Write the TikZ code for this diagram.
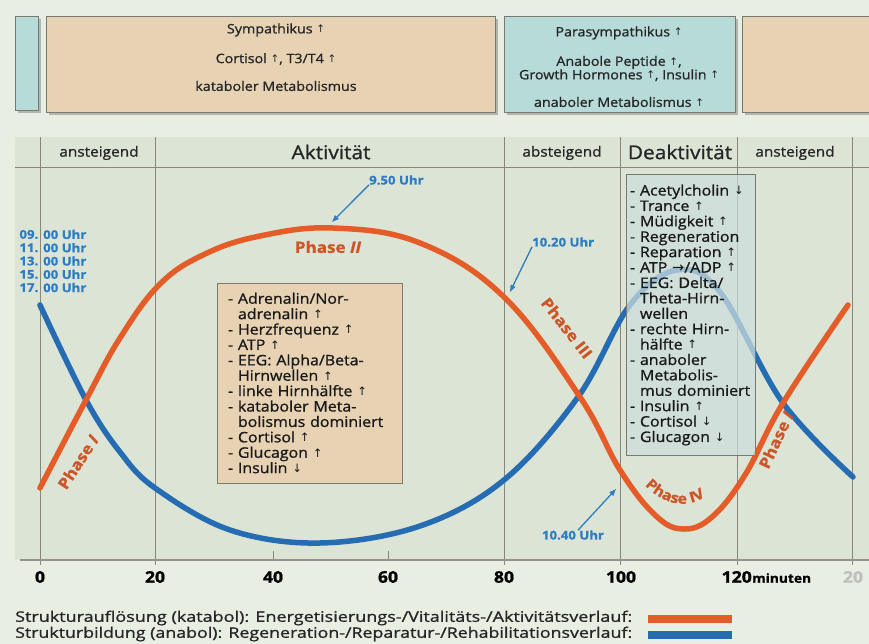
\documentclass[tikz,border=0pt]{standalone}
\usepackage{fontspec}
\usepackage{graphicx}
\setmainfont{Open Sans}[FakeStretch=1.1, FakeBold=1]
\newfontfamily\djv{DejaVu Sans}
\usetikzlibrary{arrows.meta,shadows,decorations.text}
\definecolor{bgc}{RGB}{232,238,226}
\definecolor{panel}{RGB}{219,228,213}
\definecolor{peach}{RGB}{231,210,180}
\definecolor{cyanb}{RGB}{182,219,216}
\definecolor{deak}{RGB}{206,222,222}
\definecolor{orangec}{RGB}{228,92,40}
\definecolor{orangel}{RGB}{205,85,40}
\definecolor{bluec}{RGB}{38,108,178}
\definecolor{bluel}{RGB}{45,125,195}
\definecolor{gridc}{RGB}{135,135,125}
\definecolor{boxedge}{RGB}{120,122,112}
\newcommand\upa{\raisebox{0.05em}{\scalebox{0.8}{\djv ↑}}}
\newcommand\dna{\raisebox{0.05em}{\scalebox{0.8}{\djv ↓}}}
\newcommand\ria{{\djv →}}
\newcommand\hng{\phantom{- }}
\tikzset{
 gridline/.style={draw=gridc, line width=1},
 hdr/.style={font=\fontsize{14}{15}\selectfont, text=black!85, inner sep=0},
 hdrbig/.style={font=\fontsize{19}{20}\selectfont, text=black!85, inner sep=0},
 topbox/.style={draw=boxedge, line width=0.8, inner sep=0, anchor=north west,
   drop shadow={shadow xshift=2.5pt,shadow yshift=-2.5pt,fill=black!50}},
 toptxt/.style={font=\fontsize{13}{13.5}\selectfont, text=black!85, align=center, inner sep=0},
 listbox/.style={line width=1, align=left, inner sep=0, text=black!90,
   font=\fontsize{14.5}{15.4}\selectfont},
 uhr/.style={font=\bfseries\fontsize{12}{13.3}\selectfont, text=bluel, inner sep=0},
 curveo/.style={draw=orangec, line width=5.5, line cap=round},
 curveb/.style={draw=bluec, line width=5.5, line cap=round},
 phase/.style={font=\bfseries\fontsize{15.5}{16}\selectfont, text=orangel, inner sep=0},
 bluearrow/.style={draw=bluel, line width=1.3, -{Triangle[length=7pt,width=5pt]}},
 axnum/.style={font=\bfseries\fontsize{16}{16}\selectfont, inner sep=0},
 legtxt/.style={font=\fontsize{14.5}{15}\selectfont, inner sep=0, anchor=west, text=black!85},
}
\begin{document}
\begin{tikzpicture}[x=1pt,y=-1pt]
\useasboundingbox (0,0) rectangle (869,644);
\fill[bgc] (0,0) rectangle (869,644);
\fill[panel] (15,137) rectangle (869,560);

% top boxes
\node[topbox, fill=cyanb, minimum width=23, minimum height=94] (tl) at (15,16) {};
\node[topbox, fill=peach, minimum width=449, minimum height=96] (katab) at (46,16) {};
\node[topbox, fill=cyanb, minimum width=231, minimum height=96] (anab) at (504,16) {};
\node[topbox, fill=peach, minimum width=140, minimum height=96] (katabr) at (742,16) {};
\node[toptxt] (s1) at (276,30) {Sympathikus \upa};
\node[toptxt] (s2) at (276,59) {Cortisol \upa, T3/T4 \upa};
\node[toptxt] (s3) at (276,86) {kataboler Metabolismus};
\node[toptxt] (p1) at (619,33) {Parasympathikus \upa};
\node[toptxt] (p2) at (619,68.5) {Anabole Peptide \upa,\\Growth Hormones \upa, Insulin \upa};
\node[toptxt] (p3) at (619,102) {anaboler Metabolismus \upa};

% grid
\draw[gridline] (15,168) -- (869,168);
\foreach \x in {40,155,504,620,737,852} \draw[gridline] (\x,137) -- (\x,565);
\foreach \x in {273,388} \draw[gridline] (\x,551) -- (\x,560);
\draw[draw=gridc!90, line width=2.2] (20,560) -- (869,560);

% header
\node[hdr] (h1) at (99,153) {ansteigend};
\node[hdrbig] (h2) at (331,152) {Aktivität};
\node[hdr] (h3) at (562,153) {absteigend};
\node[hdrbig] (h4) at (680,152) {Deaktivität};
\node[hdr] (h5) at (795,153) {ansteigend};

% axis labels
\node[axnum] (a0) at (40,577) {0};
\node[axnum] (a20) at (155,577) {20};
\node[axnum] (a40) at (273,577) {40};
\node[axnum] (a60) at (388,577) {60};
\node[axnum] (a80) at (504,577) {80};
\node[axnum] (a100) at (621,577) {100};
\node[axnum, anchor=east] (a120) at (752,577) {120};
\node[font=\bfseries\fontsize{12.5}{13}\selectfont, inner sep=0, anchor=base west] (amin) at (a120.base east) {minuten};
\node[axnum, text=black!25] (a140) at (853,577) {20};

% time labels
\node[uhr, anchor=east, align=right] (ta) at (38.5,261) {09.\\11.\\13.\\15.\\17.};
\node[uhr, anchor=west, align=left] (tb) at (43,261) {00 Uhr\\00 Uhr\\00 Uhr\\00 Uhr\\00 Uhr};

% curves
\draw[curveb] plot[smooth, tension=0.6] coordinates {(40,305) (86,400) (120,452) (155,488) (230,530) (320,543) (420,526) (504,480) (578,397) (630,305) (677,270) (720,292) (783,403) (853,477)};
\draw[curveo] plot[smooth, tension=0.65] coordinates {(40,488) (86,400) (120,338) (160,284) (205,254) (260,236) (333,228) (420,243) (504,297) (580,397) (620,470) (655,515) (683,529) (712,517) (745,475) (783,403) (848,305)};

% phase labels
\node[phase, rotate=57] (ph1) at (78,462) {Phase \textit{I}};
\node[phase] (ph2) at (328,247) {Phase \textit{II}};
\node[phase, rotate=-52] (ph3) at (567,328) {Phase III};
\path[decorate, decoration={text along path, text align=center, text color=orangel,
  text={|\bfseries\fontsize{14.5}{15}\selectfont|Phase IV}}]
  (630,466) .. controls (659,513) and (700,515) .. (721,478);
\node[phase, rotate=65] (ph1r) at (776,440) {Phase \textit{I}};

% time arrows
\node[uhr, anchor=west] (l950) at (369,180) {9.50 Uhr};
\coordinate (p950) at (332,222);
\draw[bluearrow] (l950.south west) -- (p950);
\node[uhr, anchor=west] (l1020) at (532,242) {10.20 Uhr};
\coordinate (p1020) at (510,292);
\draw[bluearrow] (l1020.south west) -- (p1020);
\node[uhr] (l1040) at (573,535) {10.40 Uhr};
\coordinate (p1040) at (616,489);
\draw[bluearrow] ([xshift=5pt]l1040.north) -- (p1040);

% list boxes
\node[listbox, draw=boxedge!90!brown, fill=peach, minimum width=185, minimum height=200, text width=163] (adr) at (309.5,383) {%
- Adrenalin/Nor-\\
\hng adrenalin \upa\\
- Herzfrequenz \upa\\
- ATP \upa\\
- EEG: Alpha/Beta-\\
\hng Hirnwellen \upa\\
- linke Hirnhälfte \upa\\
- kataboler Meta-\\
\hng bolismus dominiert\\
- Cortisol \upa\\
- Glucagon \upa\\
- Insulin \dna};
\node[listbox, draw=boxedge, fill=deak, fill opacity=0.72, text opacity=1, minimum width=129, minimum height=280, text width=121] (deakbox) at (690.5,315) {%
- Acetylcholin \dna\\
- Trance \upa\\
- Müdigkeit \upa\\
- Regeneration\\
- Reparation \upa\\
- ATP \ria/ADP \upa\\
- EEG: Delta/\\
\hng Theta-Hirn-\\
\hng wellen\\
- rechte Hirn-\\
\hng hälfte \upa\\
- anaboler\\
\hng Metabolis-\\
\hng mus dominiert\\
- Insulin \upa\\
- Cortisol \dna\\
- Glucagon \dna};

% legend
\node[legtxt] (leg1) at (15,618) {\resizebox{617pt}{\height}{Strukturauflösung (katabol): Energetisierungs-/Vitalitäts-/Aktivitätsverlauf:}};
\node[legtxt] (leg2) at (15,634) {\resizebox{617pt}{\height}{Strukturbildung (anabol): Regeneration-/Reparatur-/Rehabilitationsverlauf:}};
\node[fill=orangec, inner sep=0, minimum width=84, minimum height=8] (sw1) at (690,619) {};
\node[fill=bluec, inner sep=0, minimum width=84, minimum height=8] (sw2) at (690,635) {};
\end{tikzpicture}
\end{document}
